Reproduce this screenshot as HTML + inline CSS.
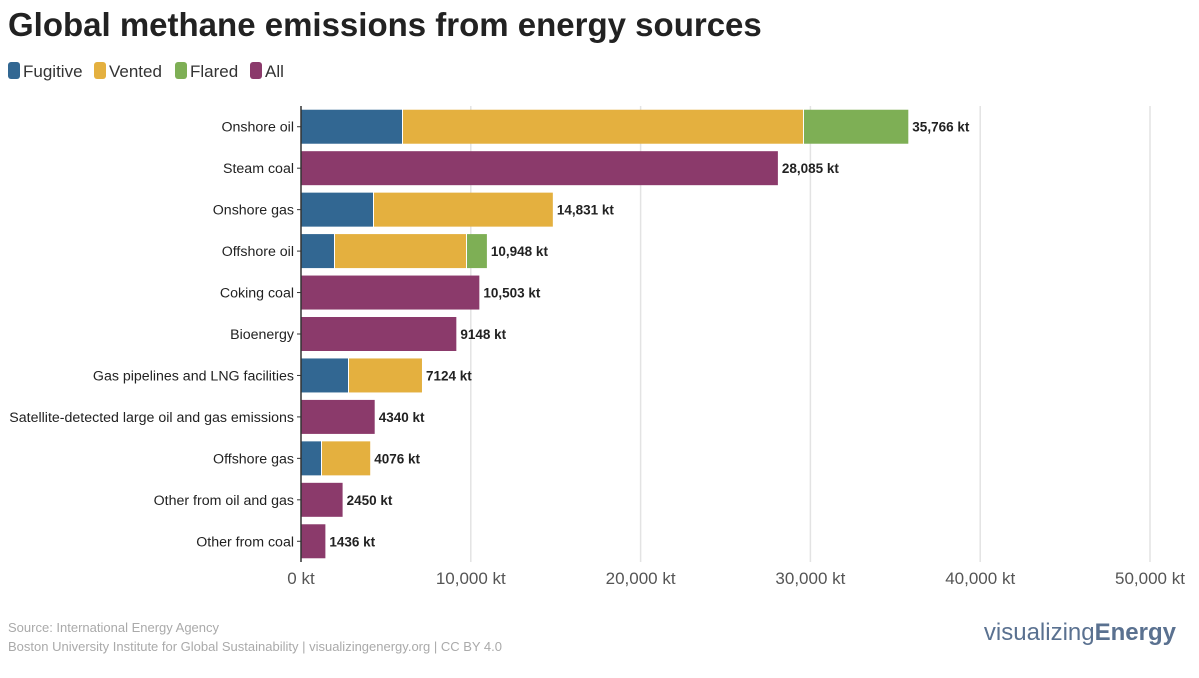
<!DOCTYPE html>
<html><head><meta charset="utf-8"><style>
body{margin:0;background:#fff;font-family:"Liberation Sans",sans-serif;}
svg{display:block}
</style></head><body>
<svg id="c" width="1199" height="678">
<text x="8" y="36" font-size="33" font-weight="bold" fill="#222">Global methane emissions from energy sources</text>
<g id="legend"></g>
<g id="grid"></g><g id="bars"></g><g id="axis"></g>
<text x="8" y="632" font-size="13" fill="#aaa">Source: International Energy Agency</text>
<text x="8" y="651" font-size="13" fill="#aaa">Boston University Institute for Global Sustainability | visualizingenergy.org | CC BY 4.0</text>
<text x="1176" y="640" text-anchor="end" font-size="24" fill="#5a7190">visualizing<tspan font-weight="bold">Energy</tspan></text>
</svg>
<script>
const categories=["Onshore oil","Steam coal","Onshore gas","Offshore oil","Coking coal","Bioenergy","Gas pipelines and LNG facilities","Satellite-detected large oil and gas emissions","Offshore gas","Other from oil and gas","Other from coal"];
const fugitive=[5948,0,4240,1943,0,0,2768,0,1178,0,0];
const vented=[23615,0,10591,7774,0,0,4356,0,2898,0,0];
const flared=[6203,0,0,1231,0,0,0,0,0,0,0];
const allVals=[0,28085,0,0,10503,9148,0,4340,0,2450,1436];
const totalLabels=["35,766 kt","28,085 kt","14,831 kt","10,948 kt","10,503 kt","9148 kt","7124 kt","4340 kt","4076 kt","2450 kt","1436 kt"];
const ticks=[0,10000,20000,30000,40000,50000];
const tickLabels=["0 kt","10,000 kt","20,000 kt","30,000 kt","40,000 kt","50,000 kt"];
const colors={fug:"#326792",ven:"#e4b03f",fla:"#7eaf55",all:"#8b3a6b"};
const NS="http://www.w3.org/2000/svg";
const x0=301,x1=1150,maxV=50000,yTop=106,yBot=562;
const xs=v=>x0+v/maxV*(x1-x0);
const band=(yBot-yTop)/categories.length;
const yc=i=>yTop+band*(i+0.5);
function mk(t,a,p){const e=document.createElementNS(NS,t);for(const k in a)e.setAttribute(k,a[k]);p.appendChild(e);return e;}
const grid=document.getElementById('grid'),bars=document.getElementById('bars'),axis=document.getElementById('axis'),leg=document.getElementById('legend');
ticks.forEach((t,i)=>{
 if(i>0){const g=mk('line',{x1:xs(t),x2:xs(t),y1:yTop,y2:yBot,stroke:'#e3e3e3','stroke-width':1.5},grid);
 
 }
 const tl=mk('text',{x:xs(t),y:yBot+22,'text-anchor':'middle','font-size':17,fill:'#555'},axis);tl.textContent=tickLabels[i];
 
 
});
const ax=mk('line',{x1:x0,x2:x0,y1:yTop,y2:yBot,stroke:'#333','stroke-width':1.5},axis);


const bh=34;
categories.forEach((c,i)=>{
 const y=yc(i);
 const lb=mk('text',{x:x0-7,y:y+5,'text-anchor':'end','font-size':14.2,fill:'#222'},axis);lb.textContent=c;
 
 
 mk('line',{x1:x0-4,x2:x0,y1:y,y2:y,stroke:'#333'},axis);
 let acc=0;
 [[fugitive,'fug'],[vented,'ven'],[flared,'fla'],[allVals,'all']].forEach(([arr,k])=>{
  const v=arr[i]; if(!v)return;
  const r=mk('rect',{x:xs(acc)+(acc?1:0),y:y-bh/2,width:xs(acc+v)-xs(acc)-(acc?1:0),height:bh,fill:colors[k]},bars);
  
  
  acc+=v;
 });
 const vl=mk('text',{x:xs(acc)+4,y:y+5,'font-size':13.5,'font-weight':'bold',fill:'#222'},bars);vl.textContent=totalLabels[i];
 
 
});
const legItems=[["Fugitive",colors.fug,8],["Vented",colors.ven,94],["Flared",colors.fla,175],["All",colors.all,250]];
legItems.forEach(([n,c,x])=>{
 const g=mk('g',{},leg);
 
 
 mk('rect',{x:x,y:62,width:12,height:17,rx:3,fill:c},g);
 const t=mk('text',{x:x+15,y:77,'font-size':17,fill:'#333'},g);t.textContent=n;
});
</script>
</body></html>
